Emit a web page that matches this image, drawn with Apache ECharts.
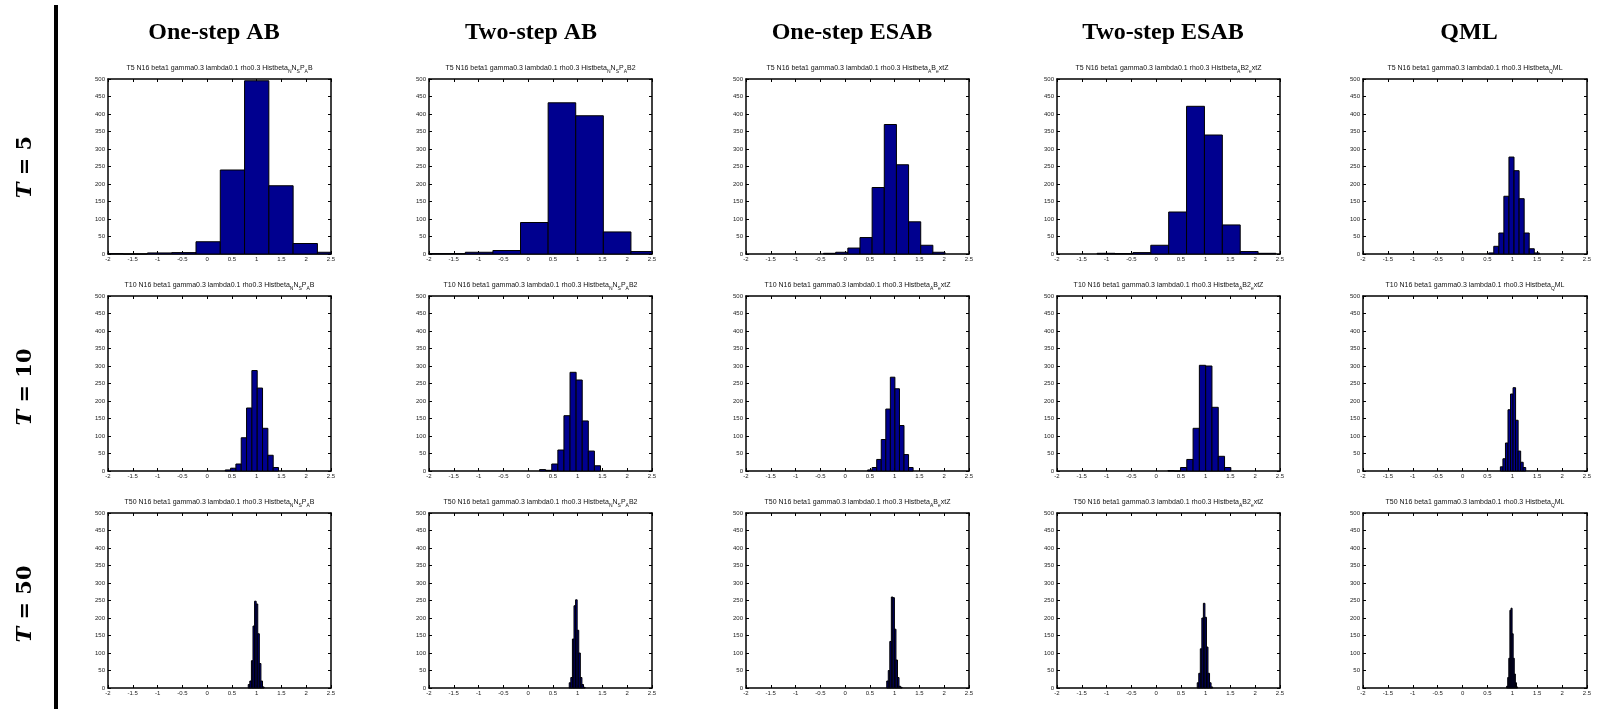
<!DOCTYPE html>
<html>
<head>
<meta charset="utf-8">
<script src="https://cdn.jsdelivr.net/npm/echarts@6/dist/echarts.min.js"></script>
<style>html,body{margin:0;padding:0;background:#fff}#c{width:1604px;height:711px}</style>
</head>
<body>
<div id="c"></div>
<script>
// ---------- categories ----------
const methods = ['One-step AB', 'Two-step AB', 'One-step ESAB', 'Two-step ESAB', 'QML'];
const Tvalues = [5, 10, 50];
const paramText = 'N16 beta1 gamma0.3 lambda0.1 rho0.3 ';
// histogram tag of each method (s = subscript piece)
const histTags = [
  '{m|Histbeta}{s|N}{m|N}{s|S}{m|P}{s|A}{m|B}',
  '{m|Histbeta}{s|N}{m|N}{s|S}{m|P}{s|A}{m|B2}',
  '{m|Histbeta}{s|A}{m|B}{s|e}{m|xtZ}',
  '{m|Histbeta}{s|A}{m|B2}{s|e}{m|xtZ}',
  '{m|Histbeta}{s|Q}{m|ML}'
];
// ---------- tick labels ----------
const xTicks = [-2, -1.5, -1, -0.5, 0, 0.5, 1, 1.5, 2, 2.5];
const yTicks = [0, 50, 100, 150, 200, 250, 300, 350, 400, 450, 500];

// ---------- histogram bin centres and counts ----------
// T = 5
const centersT5OneAB   = [-1.939, -1.449, -0.959, -0.469, 0.021, 0.511, 1.001, 1.491, 1.981, 2.471];
const countsT5OneAB    = [1, 0, 3, 4, 35, 240, 495, 195, 30, 5];
const centersT5TwoAB   = [-2.1025, -1.5455, -0.9885, -0.4315, 0.1255, 0.6825, 1.2395, 1.7965, 2.3535, 2.9105];
const countsT5TwoAB    = [1, 1, 5, 10, 90, 432, 395, 63, 7, 1];
const centersT5OneESAB = [-0.3125, -0.0674, 0.1777, 0.4228, 0.6679, 0.9130, 1.1581, 1.4032, 1.6483, 1.8934];
const countsT5OneESAB  = [2, 5, 17, 47, 190, 370, 255, 92, 25, 5];
const centersT5TwoESAB = [-1.0096, -0.6487, -0.2878, 0.0731, 0.4340, 0.7949, 1.1558, 1.5167, 1.8776, 2.2385];
const countsT5TwoESAB  = [2, 1, 4, 25, 120, 422, 340, 83, 7, 2];
const centersT5QML     = [0.576, 0.678, 0.780, 0.881, 0.983, 1.085, 1.187, 1.288, 1.390, 1.492];
const countsT5QML      = [3, 22, 60, 165, 277, 238, 158, 60, 15, 3];
// T = 10
const centersT10OneAB   = [0.4198, 0.5273, 0.6348, 0.7423, 0.8498, 0.9573, 1.0648, 1.1723, 1.2798, 1.3873];
const countsT10OneAB    = [3, 8, 20, 95, 180, 287, 237, 122, 45, 10];
const centersT10TwoAB   = [0.2925, 0.4155, 0.5385, 0.6615, 0.7845, 0.9075, 1.0305, 1.1535, 1.2765, 1.3995];
const countsT10TwoAB    = [4, 2, 20, 60, 158, 282, 260, 143, 57, 15];
const centersT10OneESAB = [0.4999, 0.5917, 0.6835, 0.7753, 0.8671, 0.9589, 1.0507, 1.1425, 1.2343, 1.3261];
const countsT10OneESAB  = [3, 10, 33, 90, 177, 268, 235, 130, 47, 10];
const centersT10TwoESAB = [0.3015, 0.4285, 0.5555, 0.6825, 0.8095, 0.9365, 1.0635, 1.1905, 1.3175, 1.4445];
const countsT10TwoESAB  = [1, 0, 10, 33, 122, 302, 300, 182, 42, 10];
const centersT10QML     = [0.7855, 0.8364, 0.8873, 0.9382, 0.9891, 1.0400, 1.0909, 1.1418, 1.1927, 1.2436];
const countsT10QML      = [12, 35, 80, 175, 220, 238, 145, 57, 25, 10];
// T = 50
const centersT50OneAB   = [0.846, 0.878, 0.910, 0.942, 0.974, 1.006, 1.038, 1.070, 1.102, 1.134];
const countsT50OneAB    = [10, 20, 78, 177, 248, 240, 155, 70, 20, 3];
const centersT50TwoAB   = [0.846, 0.878, 0.910, 0.942, 0.974, 1.006, 1.038, 1.070, 1.102, 1.134];
const countsT50TwoAB    = [15, 30, 140, 235, 252, 165, 100, 30, 10, 2];
const centersT50OneESAB = [0.8555, 0.8865, 0.9175, 0.9485, 0.9795, 1.0105, 1.0415, 1.0725, 1.1035, 1.1345];
const countsT50OneESAB  = [20, 50, 133, 260, 258, 168, 80, 30, 5, 2];
const centersT50TwoESAB = [0.8455, 0.8765, 0.9075, 0.9385, 0.9695, 1.0005, 1.0315, 1.0625, 1.0935, 1.1245];
const countsT50TwoESAB  = [15, 42, 112, 200, 242, 202, 117, 42, 15, 3];
const centersT50QML     = [0.896, 0.918, 0.940, 0.962, 0.984, 1.006, 1.028, 1.050, 1.072, 1.094];
const countsT50QML      = [5, 30, 85, 222, 228, 155, 85, 40, 15, 3];

const panels = [
  [[centersT5OneAB, countsT5OneAB], [centersT5TwoAB, countsT5TwoAB], [centersT5OneESAB, countsT5OneESAB], [centersT5TwoESAB, countsT5TwoESAB], [centersT5QML, countsT5QML]],
  [[centersT10OneAB, countsT10OneAB], [centersT10TwoAB, countsT10TwoAB], [centersT10OneESAB, countsT10OneESAB], [centersT10TwoESAB, countsT10TwoESAB], [centersT10QML, countsT10QML]],
  [[centersT50OneAB, countsT50OneAB], [centersT50TwoAB, countsT50TwoAB], [centersT50OneESAB, countsT50OneESAB], [centersT50TwoESAB, countsT50TwoESAB], [centersT50QML, countsT50QML]]
];

// ---------- layout (pixels) ----------
const colLeft = [108, 429, 746, 1057, 1363];
const colWidth = [223, 223, 223, 223, 224];
const rowTop = [79, 296, 513];
const rowHeight = 175;
const colTitleX = [214, 531, 852, 1163, 1469];
const rowLabelY = [167, 387, 604];

const chart = echarts.init(document.getElementById('c'), null, {renderer: 'canvas'});

const labelFont = 'Liberation Sans, Arial, sans-serif';
const grids = [], xAxes = [], yAxes = [], series = [], titles = [];

methods.forEach((m, c) => {
  titles.push({
    text: m, left: colTitleX[c], top: 33, textAlign: 'center', textVerticalAlign: 'middle', padding: 0,
    textStyle: {fontFamily: 'Liberation Serif, Times New Roman, serif', fontWeight: 'bold', fontSize: 24, color: '#000'}
  });
});

function renderBar(params, api) {
  const c = api.value(0), n = api.value(1), w = api.value(2);
  const p0 = api.coord([c - w / 2, n]);
  const p1 = api.coord([c + w / 2, 0]);
  const rect = {x: p0[0], y: p0[1], width: p1[0] - p0[0], height: p1[1] - p0[1]};
  const cs = params.coordSys;
  const clipped = echarts.graphic.clipRectByRect(rect, {x: cs.x, y: cs.y, width: cs.width, height: cs.height});
  if (!clipped) return;
  return {type: 'rect', shape: clipped, style: {fill: '#00008F', stroke: '#000', lineWidth: 1}};
}

const axisLineStyle = {color: '#000', width: 1.5};
Tvalues.forEach((T, r) => {
  methods.forEach((m, c) => {
    const g = grids.length;
    grids.push({left: colLeft[c], top: rowTop[r], width: colWidth[c], height: rowHeight, containLabel: false});
    titles.push({
      text: '{m|T' + T + ' ' + paramText + '}' + histTags[c],
      left: colLeft[c] + colWidth[c] / 2, top: rowTop[r] - 14, textAlign: 'center', textVerticalAlign: 'top', padding: 0,
      textStyle: {
        fontSize: 7, fontFamily: labelFont, fontWeight: 'normal', color: '#111',
        rich: {
          m: {fontSize: 7, fontFamily: labelFont, fontWeight: 'normal', color: '#111', verticalAlign: 'top'},
          s: {fontSize: 5, fontFamily: labelFont, fontWeight: 'normal', color: '#111', verticalAlign: 'top', padding: [4, 0, 0, 0]}
        }
      }
    });
    const xCommon = {
      type: 'value', gridIndex: g, min: xTicks[0], max: xTicks[xTicks.length - 1], interval: 0.5,
      splitLine: {show: false},
      axisLine: {show: true, onZero: false, lineStyle: axisLineStyle},
      axisTick: {show: true, inside: true, length: 3, lineStyle: {color: '#000', width: 1}}
    };
    xAxes.push(Object.assign({}, xCommon, {
      position: 'bottom',
      axisLabel: {show: true, fontSize: 6, color: '#222', fontFamily: labelFont, margin: 2, showMinLabel: true, showMaxLabel: true}
    }));
    xAxes.push(Object.assign({}, xCommon, {position: 'top', axisLabel: {show: false}}));
    const yCommon = {
      type: 'value', gridIndex: g, min: yTicks[0], max: yTicks[yTicks.length - 1], interval: 50,
      splitLine: {show: false},
      axisLine: {show: true, onZero: false, lineStyle: axisLineStyle},
      axisTick: {show: true, inside: true, length: 3, lineStyle: {color: '#000', width: 1}}
    };
    yAxes.push(Object.assign({}, yCommon, {
      position: 'left',
      axisLabel: {show: true, fontSize: 6, color: '#222', fontFamily: labelFont, margin: 3, showMinLabel: true, showMaxLabel: true}
    }));
    yAxes.push(Object.assign({}, yCommon, {position: 'right', axisLabel: {show: false}}));

    const centers = panels[r][c][0], counts = panels[r][c][1];
    const w = centers[1] - centers[0];
    series.push({
      type: 'custom', name: m + ' T=' + T, xAxisIndex: 2 * g, yAxisIndex: 2 * g,
      renderItem: renderBar,
      encode: {x: 0, y: 1},
      data: centers.map((ctr, i) => [ctr, counts[i], w]),
      silent: true
    });
  });
});

const graphics = [
  {type: 'rect', shape: {x: 54, y: 5, width: 4, height: 704}, style: {fill: '#000'}}
];
Tvalues.forEach((T, r) => {
  graphics.push({
    type: 'text', x: 26, y: rowLabelY[r], rotation: Math.PI / 2,
    style: {
      text: '{t|T}{n| = ' + T + '}',
      align: 'center', verticalAlign: 'middle',
      rich: {
        t: {fontFamily: 'DejaVu Serif', fontWeight: 'bold', fontStyle: 'italic', fontSize: 21, fill: '#000'},
        n: {fontFamily: 'DejaVu Serif', fontWeight: 'bold', fontSize: 21, fill: '#000'}
      }
    }
  });
});

chart.setOption({
  animation: false,
  backgroundColor: '#fff',
  title: titles,
  grid: grids,
  xAxis: xAxes,
  yAxis: yAxes,
  series: series,
  graphic: graphics
});
</script>
</body>
</html>
